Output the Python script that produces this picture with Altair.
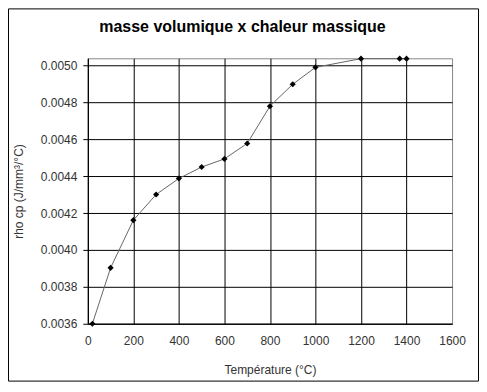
import altair as alt
import pandas as pd

temperature = [20, 100, 200, 300, 400, 500, 600, 700, 800, 900, 1000, 1200, 1370, 1400]
rho_cp = [0.00360, 0.003903, 0.004162, 0.004301, 0.004388, 0.004450, 0.004494,
          0.004578, 0.004780, 0.004899, 0.004991, 0.005038, 0.005038, 0.005038]

x_ticks = [0, 200, 400, 600, 800, 1000, 1200, 1400, 1600]
y_ticks = [0.0036, 0.0038, 0.0040, 0.0042, 0.0044, 0.0046, 0.0048, 0.0050]
title_text = ["masse volumique x chaleur massique"]

df = pd.DataFrame({"T": temperature, "rc": rho_cp})

W, H = 365, 266
PAD = {"left": 80, "top": 50, "right": 27, "bottom": 58}
FONT = "Liberation Sans"

x_enc = alt.X("T:Q",
              scale=alt.Scale(domain=[0, 1600], nice=False, zero=False),
              axis=alt.Axis(values=x_ticks, format="d", title="Température (°C)", tickSize=0,
                            tickCount=20, labelFlush=False, labelPadding=12, titlePadding=18,
                            gridOpacity={"condition": {"test": "datum.value >= 1600", "value": 0}, "value": 1}))
y_enc = alt.Y("rc:Q",
              scale=alt.Scale(domain=[0.0036, 0.00504], nice=False, zero=False),
              axis=alt.Axis(values=y_ticks, format=".4f", title="rho cp (J/mm³/°C)",
                            tickCount=20, labelOverlap=False, labelFlush=False,
                            tickSize=5, labelPadding=6, titlePadding=15))

base = alt.Chart(df)
line = base.mark_line(color="#666666", strokeWidth=1).encode(x=x_enc, y=y_enc)
pts = base.mark_point(shape="diamond", filled=True, color="black", size=38, opacity=1).encode(x="T:Q", y="rc:Q")

frame = alt.Chart(alt.Data(values=[{"a": 1}])).mark_rect(
    fill=None, stroke="black", strokeWidth=1
).encode(
    x=alt.value(-PAD["left"] + 0.5), x2=alt.value(W + PAD["right"] - 0.5),
    y=alt.value(-PAD["top"] + 0.5), y2=alt.value(H + PAD["bottom"] - 0.5),
)

title = alt.Chart(alt.Data(values=[{"t": t} for t in title_text])).mark_text(
    font=FONT, fontSize=16, fontWeight="bold", color="black", align="center", baseline="alphabetic"
).encode(text="t:N", x=alt.value(155), y=alt.value(-26))

chart = alt.layer(line, pts, frame, title).properties(
    width=W, height=H,
    autosize=alt.AutoSizeParams(type="none"),
    padding=PAD,
    background="white",
).configure_view(stroke="#888888", strokeWidth=1).configure_axis(
    gridColor="black", gridWidth=1, gridOpacity=1,
    domainColor="black", tickColor="black",
    labelFont=FONT, titleFont=FONT, labelFontSize=12, titleFontSize=12,
    labelColor="#333333", titleColor="#333333", titleFontWeight="normal",
)

chart.save("out.html", embed_options={"renderer": "svg", "actions": False})
